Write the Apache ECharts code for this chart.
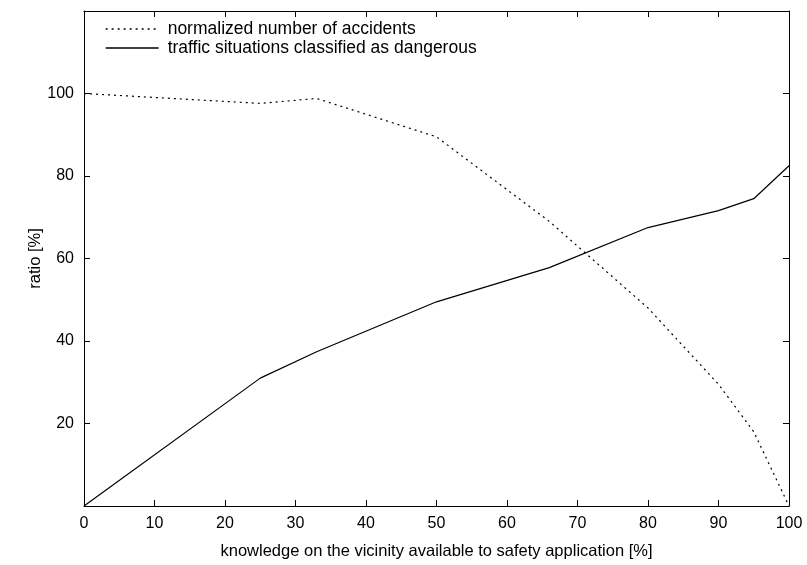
<!DOCTYPE html>
<html>
<head>
<meta charset="utf-8">
<script src="https://cdn.jsdelivr.net/npm/echarts@6/dist/echarts.min.js"></script>
<style>html,body{margin:0;padding:0;background:#fff}#c{width:807px;height:565px}</style>
</head>
<body>
<div id="c"></div>
<script>
const knowledge = [0, 25, 33, 50, 66, 80, 90, 95, 100];
const accidents = [100, 97.6, 98.8, 89.5, 69, 48, 29.5, 18, 0];
const dangerous = [0, 31, 37.4, 49.5, 57.8, 67.5, 71.6, 74.5, 82.5];
const seriesNames = ['normalized number of accidents', 'traffic situations classified as dangerous'];
const xTitle = 'knowledge on the vicinity available to safety application [%]';
const yTitle = 'ratio [%]';

const FONT = 'Liberation Sans, Arial, Helvetica, sans-serif';
const FS = 16;
const chart = echarts.init(document.getElementById('c'), null, {renderer: 'canvas'});
const axisCommon = {
  axisLine: {show: true, onZero: false, lineStyle: {color: '#000', width: 1}},
  axisTick: {show: true, inside: true, length: 6, lineStyle: {color: '#000', width: 1}},
  splitLine: {show: false}
};
chart.setOption({
  animation: false,
  backgroundColor: '#fff',
  textStyle: {fontFamily: FONT, color: '#000'},
  grid: {left: 84, right: 18, top: 11, bottom: 59, containLabel: false},
  legend: {
    orient: 'vertical', left: 100, top: 15, itemWidth: 53, itemHeight: 12, itemGap: 1,
    itemStyle: {color: 'transparent', borderWidth: 0, opacity: 0},
    lineStyle: {width: 1.3},
    textStyle: {fontFamily: FONT, fontSize: 17.5, color: '#000', padding: [0, 0, 0, 4]},
    data: seriesNames
  },
  xAxis: [
    Object.assign({type: 'value', min: 0, max: 100, interval: 10, position: 'bottom',
      name: xTitle, nameLocation: 'middle', nameGap: 37,
      nameTextStyle: {fontFamily: FONT, fontSize: 16.5, color: '#000'},
      axisLabel: {fontFamily: FONT, fontSize: FS, color: '#000', margin: 10}}, axisCommon),
    Object.assign({type: 'value', min: 0, max: 100, interval: 10, position: 'top',
      axisLabel: {show: false}}, axisCommon)
  ],
  yAxis: [
    Object.assign({type: 'value', min: 0, max: 120, interval: 20, position: 'left',
      name: yTitle, nameLocation: 'middle', nameGap: 40, nameRotate: 90, nameMoveOverlap: false,
      nameTextStyle: {fontFamily: FONT, fontSize: 16.5, color: '#000'},
      axisLabel: {fontFamily: FONT, fontSize: FS, color: '#000', margin: 10,
        formatter: v => (v === 0 || v === 120) ? '' : String(v)}}, axisCommon),
    Object.assign({type: 'value', min: 0, max: 120, interval: 20, position: 'right',
      axisLabel: {show: false}}, axisCommon)
  ],
  series: [
    {name: seriesNames[0], type: 'line', showSymbol: false, symbol: 'none',
     data: knowledge.map((k, i) => [k, accidents[i]]),
     lineStyle: {color: '#000', width: 1.2, type: [2, 4]}, itemStyle: {color: '#000'}},
    {name: seriesNames[1], type: 'line', showSymbol: false, symbol: 'none',
     data: knowledge.map((k, i) => [k, dangerous[i]]),
     lineStyle: {color: '#000', width: 1.2, type: 'solid'}, itemStyle: {color: '#000'}}
  ]
});
</script>
</body>
</html>
